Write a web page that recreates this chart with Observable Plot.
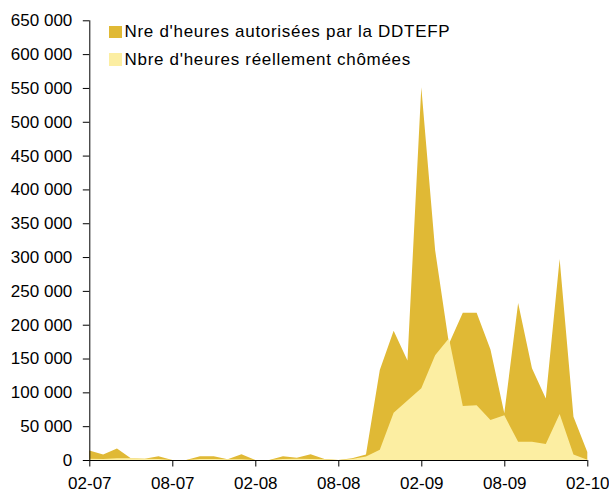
<!DOCTYPE html>
<html>
<head>
<meta charset="utf-8">
<script src="https://cdn.jsdelivr.net/npm/d3@7"></script>
<script src="https://cdn.jsdelivr.net/npm/@observablehq/plot@0.6"></script>
<style>
  html, body { margin: 0; padding: 0; background: #fff; }
  #wrap { position: relative; width: 609px; height: 492px; font-family: "Liberation Sans", Arial, sans-serif; }
  .leg { position: absolute; left: 109px; font-size: 17px; letter-spacing: 0.7px; color: #000; display: flex; align-items: center; white-space: nowrap; }
  .sw { width: 12.5px; height: 12.5px; margin-right: 3px; display: inline-block; }
</style>
</head>
<body>
<div id="wrap"></div>
<script>
// Month index 0 = 02-07 ... 36 = 02-10
const tickLabels = ["02-07", "08-07", "02-08", "08-08", "02-09", "08-09", "02-10"];
const tickMonths = [0, 6, 12, 18, 24, 30, 36];

const autorisees = [14000, 8000, 17000, 2500, 2000, 5500, 0, 0, 5500, 5500,
  1000, 8500, 0, 0, 5500, 3500, 8500, 1500, 0, 2500,
  8000, 133000, 191000, 147000, 551000, 310000, 172000, 217500, 217500, 163500,
  69000, 232000, 135500, 91000, 297000, 64000, 12000];

const chomees = [2000, 1500, 2500, 2500, 2000, 1500, 0, 0, 1500, 1500,
  1000, 1000, 0, 0, 1500, 2000, 1500, 1000, 0, 1500,
  5000, 15000, 70000, 88000, 106000, 155000, 180000, 80000, 81000, 59000,
  66000, 27000, 27000, 23500, 68000, 8000, 500];

const seriesNames = ["Nre d'heures autorisées par la DDTEFP", "Nbre d'heures réellement chômées"];
const seriesColors = ["#E0B935", "#FCEEA2"];

const dataA = autorisees.map((v, i) => ({m: i, v}));
const dataC = chomees.map((v, i) => ({m: i, v}));

const fmt = d => d3.format(",")(d).replace(/,/g, " ");

const chart = Plot.plot({
  width: 609,
  height: 492,
  marginLeft: 89.3,
  marginRight: 21.7,
  marginTop: 20.3,
  marginBottom: 32,
  style: { fontFamily: "'Liberation Sans', Arial, sans-serif", fontSize: "17px", background: "#fff", color: "#000" },
  x: { domain: [0, 36] },
  y: { domain: [0, 650000] },
  marks: [
    Plot.areaY(dataA, {x: "m", y: "v", fill: seriesColors[0]}),
    Plot.areaY(dataC, {x: "m", y: "v", fill: seriesColors[1]}),
    Plot.ruleX([0], {stroke: "#000", strokeWidth: 1}),
    Plot.ruleY([0], {stroke: "#000", strokeWidth: 1}),
    Plot.axisY({ticks: d3.range(0, 650001, 50000), tickFormat: fmt, tickSize: 6.5, tickPadding: 11, label: null, fontSize: 17}),
    Plot.axisX({ticks: tickMonths, tickFormat: (d) => tickLabels[tickMonths.indexOf(d)], tickSize: 6.5, tickPadding: 9.5, label: null, fontSize: 17})
  ]
});

const wrap = document.getElementById("wrap");
wrap.appendChild(chart);

seriesNames.forEach((name, i) => {
  const d = document.createElement("div");
  d.className = "leg";
  d.style.top = (21 + i * 27.5) + "px";
  d.style.height = "22px";
  const s = document.createElement("span");
  s.className = "sw";
  s.style.background = seriesColors[i];
  d.appendChild(s);
  d.appendChild(document.createTextNode(name));
  wrap.appendChild(d);
});
</script>
</body>
</html>
